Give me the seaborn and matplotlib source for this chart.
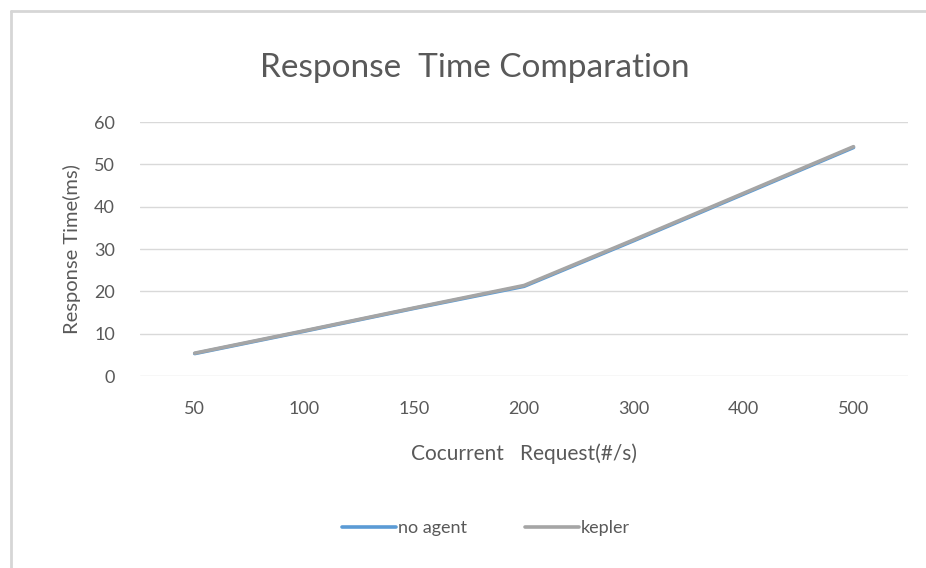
import pandas as pd
import matplotlib.pyplot as plt
import seaborn as sns
from matplotlib.lines import Line2D

# data
requests = ['50', '100', '150', '200', '300', '400', '500']
no_agent = [5.3, 10.6, 16.0, 21.2, 32.0, 43.0, 54.0]
kepler = [5.4, 10.7, 16.1, 21.4, 32.2, 43.2, 54.2]

df = pd.DataFrame({
    'request': requests * 2,
    'time': no_agent + kepler,
    'series': ['no agent'] * len(requests) + ['kepler'] * len(requests),
})

sns.set_theme(style='white')
plt.rcParams['font.family'] = ['Lato', 'DejaVu Sans']

fig = plt.figure(figsize=(9.26, 5.68), dpi=100)
ax = fig.add_axes([0.151, 0.338, 0.830, 0.447])

sns.lineplot(data=df, x='request', y='time', hue='series',
             palette={'no agent': '#5B9BD5', 'kepler': '#A5A5A5'},
             linewidth=2.6, sort=False, ax=ax, legend=False)

ax.set_xlim(-0.5, len(requests) - 0.5)
ax.set_ylim(0, 60)
ax.set_yticks(range(0, 61, 10))
ax.grid(axis='y', color='#d9d9d9', linewidth=1)
ax.set_axisbelow(True)
for s in ax.spines.values():
    s.set_visible(False)
ax.tick_params(axis='both', length=0, labelsize=13, labelcolor='#595959')
ax.tick_params(axis='x', pad=18)
ax.tick_params(axis='y', pad=18)

ax.set_xlabel('Cocurrent   Request(#/s)', fontsize=15, color='#595959', labelpad=19)
ax.set_ylabel('Response Time(ms)', fontsize=14.5, color='#595959', labelpad=9)
fig.text(0.513, 0.88, 'Response  Time Comparation', ha='center', va='center',
         fontsize=24, color='#595959')

handles = [Line2D([], [], color='#5B9BD5', linewidth=2.6),
           Line2D([], [], color='#A5A5A5', linewidth=2.6)]
fig.legend(handles, ['no agent', 'kepler'], loc='center', ncol=2,
           bbox_to_anchor=(0.525, 0.07), frameon=False, fontsize=13,
           handlelength=3.0, handletextpad=0.1, columnspacing=3.2,
           labelcolor='#595959')

# outer frame of the screenshot
fig.add_artist(Line2D([0.012, 0.012], [0, 0.981], color='#d6d6d6', linewidth=2))
fig.add_artist(Line2D([0.012, 1.0], [0.981, 0.981], color='#d6d6d6', linewidth=2))

fig.savefig('out.png', dpi=100)
